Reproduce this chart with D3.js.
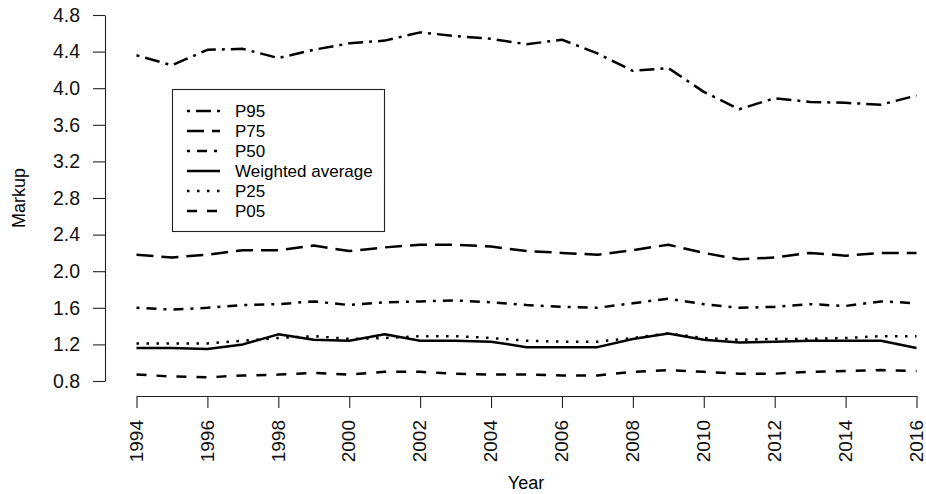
<!DOCTYPE html>
<html><head><meta charset="utf-8">
<script src="https://cdn.jsdelivr.net/npm/d3@7"></script>
<style>
html,body{margin:0;padding:0;background:#fff;}
svg{display:block;font-family:"Liberation Sans",Arial,Helvetica,sans-serif;}
</style></head>
<body>
<svg id="chart" width="926" height="494"></svg>
<script>
const years = d3.range(1994, 2017);
const p95  = [4.36,4.25,4.42,4.43,4.33,4.42,4.49,4.52,4.61,4.57,4.54,4.48,4.53,4.38,4.19,4.22,3.96,3.77,3.89,3.85,3.84,3.82,3.92];
const p75  = [2.18,2.15,2.18,2.23,2.23,2.28,2.22,2.26,2.29,2.29,2.27,2.22,2.20,2.18,2.23,2.29,2.20,2.13,2.15,2.20,2.17,2.20,2.20];
const p50  = [1.60,1.58,1.60,1.63,1.64,1.67,1.63,1.66,1.67,1.68,1.66,1.63,1.61,1.60,1.65,1.70,1.64,1.60,1.61,1.64,1.62,1.67,1.65];
const wavg = [1.16,1.16,1.15,1.20,1.31,1.25,1.24,1.31,1.24,1.24,1.23,1.17,1.17,1.17,1.26,1.32,1.25,1.22,1.23,1.24,1.24,1.24,1.16];
const p25  = [1.21,1.21,1.21,1.24,1.27,1.29,1.26,1.27,1.29,1.29,1.27,1.24,1.23,1.23,1.27,1.32,1.27,1.25,1.26,1.26,1.27,1.29,1.29];
const p05  = [0.87,0.85,0.84,0.86,0.87,0.89,0.87,0.90,0.90,0.88,0.87,0.87,0.86,0.86,0.90,0.92,0.90,0.88,0.88,0.90,0.91,0.92,0.91];
const seriesNames = ["P95","P75","P50","Weighted average","P25","P05"];
const xTicks = [1994,1996,1998,2000,2002,2004,2006,2008,2010,2012,2014,2016];
const yTicks = [0.8,1.2,1.6,2.0,2.4,2.8,3.2,3.6,4.0,4.4,4.8];
const xLabel = "Year", yLabel = "Markup";

const seriesValues = [p95, p75, p50, wavg, p25, p05];
const dashes = ["3,6,15,6", "17,8", "3,7,10,7", null, "2.5,7.5", "10,10"];

const svg = d3.select("#chart");
const x = d3.scaleLinear().domain([1994, 2016]).range([136.5, 916.5]);
const y = d3.scaleLinear().domain([0.8, 4.8]).range([381, 15]);

// Y axis
const gy = svg.append("g").attr("transform", "translate(105,0)")
  .call(d3.axisLeft(y).tickValues(yTicks).tickFormat(d3.format(".1f")).tickSize(12).tickSizeOuter(0).tickPadding(13));
gy.selectAll("text").attr("font-size", 19.5).attr("fill", "#111").attr("font-family", "Liberation Sans, Arial, sans-serif");
gy.selectAll("line,path").attr("stroke", "#222").attr("stroke-width", 1.1);

// X axis
const gx = svg.append("g").attr("transform", "translate(0,396)")
  .call(d3.axisBottom(x).tickValues(xTicks).tickFormat(d3.format("d")).tickSize(12).tickSizeOuter(0));
gx.selectAll("text")
  .attr("font-size", 19).attr("fill", "#111").attr("font-family", "Liberation Sans, Arial, sans-serif")
  .attr("transform", "rotate(-90)").attr("text-anchor", "end")
  .attr("x", -24).attr("y", 0).attr("dy", "0.3em");
gx.selectAll("line,path").attr("stroke", "#222").attr("stroke-width", 1.1);

// Axis titles
svg.append("text").attr("x", 526).attr("y", 489).attr("text-anchor", "middle")
  .attr("font-size", 18).text(xLabel);
svg.append("text").attr("transform", "translate(25,198) rotate(-90)").attr("text-anchor", "middle")
  .attr("font-size", 18).text(yLabel);

// Lines
const line = d3.line().x((d, i) => x(years[i])).y(d => y(d));
seriesValues.forEach((vals, k) => {
  svg.append("path").datum(vals)
    .attr("d", line).attr("fill", "none").attr("stroke", "#000")
    .attr("stroke-width", 2.5).attr("stroke-linecap", "butt").attr("stroke-linejoin", "round")
    .attr("stroke-dasharray", dashes[k]);
});

// Legend
const lg = svg.append("g");
lg.append("rect").attr("x", 172.5).attr("y", 89.5).attr("width", 212).attr("height", 142)
  .attr("fill", "#fff").attr("stroke", "#222").attr("stroke-width", 1.1);
seriesNames.forEach((name, k) => {
  const yy = 111 + k * 20;
  lg.append("line").attr("x1", 187).attr("x2", 220).attr("y1", yy).attr("y2", yy)
    .attr("stroke", "#000").attr("stroke-width", 2.5).attr("stroke-dasharray", dashes[k]);
  lg.append("text").attr("x", 235).attr("y", yy).attr("dy", "0.35em")
    .attr("font-size", 17).text(name);
});
</script>
</body></html>
